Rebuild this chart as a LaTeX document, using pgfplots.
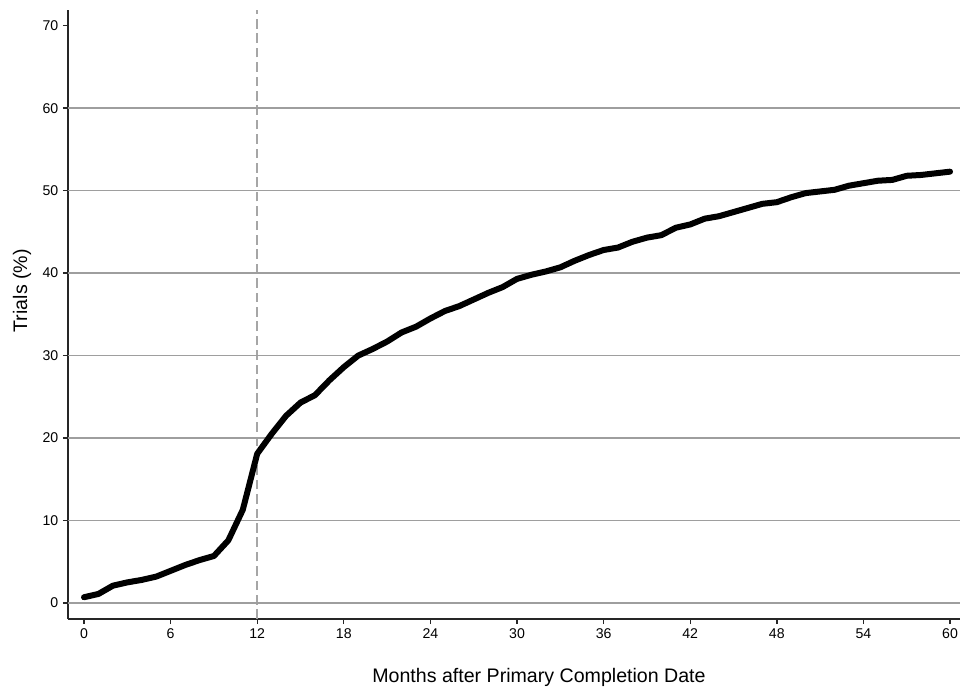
\documentclass[border=0pt]{standalone}
\usepackage{pgfplots}
\usepackage{pgfplotstable}
\pgfplotsset{compat=1.18}
\usepackage{fontspec}
\setmainfont{Liberation Sans}

% Cumulative share of trials reporting results, by month after primary completion
\pgfplotstableread{
month pct
0  0.7
1  1.1
2  2.1
3  2.5
4  2.8
5  3.2
6  3.9
7  4.6
8  5.2
9  5.7
10 7.6
11 11.3
12 18.1
13 20.5
14 22.7
15 24.3
16 25.2
17 27.0
18 28.6
19 30.0
20 30.8
21 31.7
22 32.8
23 33.5
24 34.5
25 35.4
26 36.0
27 36.8
28 37.6
29 38.3
30 39.3
31 39.8
32 40.2
33 40.7
34 41.5
35 42.2
36 42.8
37 43.1
38 43.8
39 44.3
40 44.6
41 45.5
42 45.9
43 46.6
44 46.9
45 47.4
46 47.9
47 48.4
48 48.6
49 49.2
50 49.7
51 49.9
52 50.1
53 50.6
54 50.9
55 51.2
56 51.3
57 51.8
58 51.9
59 52.1
60 52.3
}\trials

\begin{document}
\begin{tikzpicture}
\begin{axis}[
  at={(0pt,0pt)}, anchor=south west,
  scale only axis,
  width=669pt, height=456.75pt,
  xmin=-1.11, xmax=60.69,
  ymin=-1.94, ymax=71.9,
  axis x line*=bottom, axis y line*=left,
  axis line style={-, line width=1.4pt, black!85},
  xtick={0,6,...,60},
  ytick={0,10,...,70},
  tick align=outside,
  major tick length=3.75pt,
  tick style={line width=1pt, black!85},
  /pgf/number format/assume math mode=true,
  tick label style={font=\fontsize{10.6}{12}\selectfont},
  % horizontal rules up to 60 only
  extra y ticks={0,10,...,60},
  extra y tick labels={},
  extra y tick style={ymajorgrids=true, major tick length=0pt,
    grid style={line width=1pt, black!38}},
  % reference line at 12 months
  extra x ticks={12},
  extra x tick labels={},
  extra x tick style={xmajorgrids=true, major tick length=0pt,
    grid style={line width=1.6pt, black!35, dash pattern=on 7.2pt off 3.6pt}},
  xlabel={Months after Primary Completion Date},
  ylabel={Trials (\%)},
  label style={font=\fontsize{14.7}{16}\selectfont},
  xlabel style={at={(axis description cs:0.528,0)}, anchor=center, yshift=-43.5pt},
  ylabel style={at={(axis description cs:-0.0516,0.539)}, anchor=center},
]
\addplot[black, line width=4.5pt, line join=round, line cap=round]
  table[x=month, y=pct]{\trials};
\end{axis}
\pgfresetboundingbox
\path[use as bounding box] (-51pt,-56.25pt) rectangle (669pt,464.25pt);
\end{tikzpicture}
\end{document}
